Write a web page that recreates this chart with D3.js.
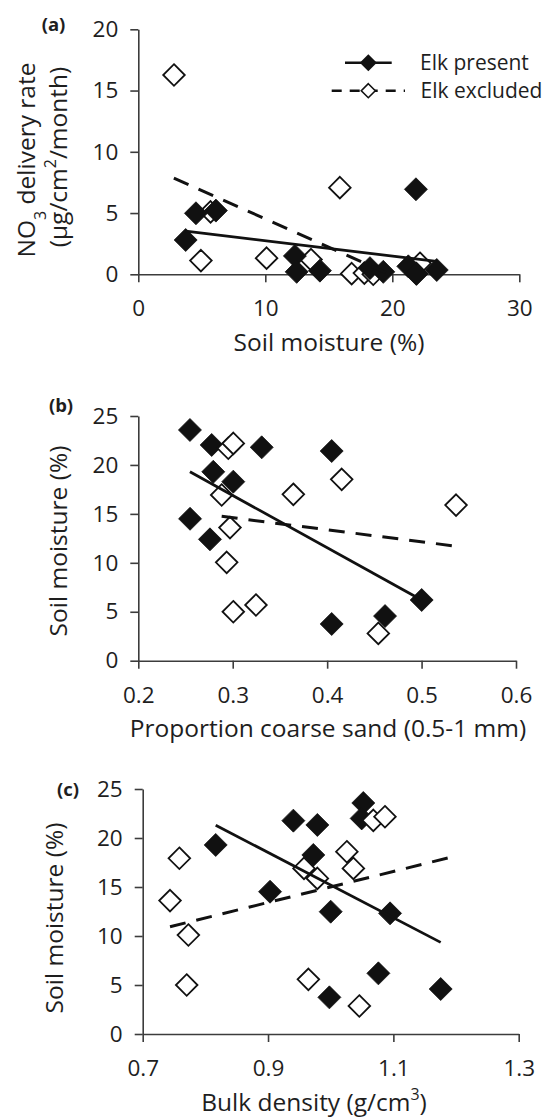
<!DOCTYPE html>
<html>
<head>
<meta charset="utf-8">
<script src="https://cdn.jsdelivr.net/npm/d3@7"></script>
<style>
  html, body { margin: 0; padding: 0; background: #ffffff; }
  svg { display: block; }
</style>
</head>
<body>
<script>
// ---------------- DATA ----------------
// Panel (a): NO3 delivery rate vs soil moisture
const aPresentX  = [3.73, 4.54, 6.11, 12.33, 12.47, 14.3, 18.24, 19.29, 21.26, 21.86, 21.9, 23.5];
const aPresentY  = [2.8, 4.98, 5.2, 1.5, 0.2, 0.3, 0.5, 0.2, 0.65, 6.94, 0.05, 0.35];
const aExcludedX = [2.81, 4.93, 5.69, 10.1, 13.6, 15.87, 16.8, 17.8, 18.5, 22.18, 21.9];
const aExcludedY = [16.27, 1.12, 5.1, 1.32, 1.2, 7.07, 0.05, 0.1, 0.0, 0.9, 0.05];
const aTrendPresent  = [[3.73, 3.53], [23.48, 1.05]];
const aTrendExcluded = [[2.8, 7.85], [19.8, 0.0]];
const aXTicks = [0, 10, 20, 30];
const aYTicks = [0, 5, 10, 15, 20];

// Panel (b): soil moisture vs proportion coarse sand
const bPresentX  = [0.2547, 0.2777, 0.3307, 0.4048, 0.2794, 0.3006, 0.2548, 0.2759, 0.5001, 0.4613, 0.4048];
const bPresentY  = [23.57, 22.04, 21.8, 21.42, 19.3, 18.29, 14.5, 12.4, 6.2, 4.56, 3.75];
const bExcludedX = [0.2953, 0.3006, 0.4154, 0.3642, 0.2883, 0.2971, 0.2936, 0.3006, 0.3246, 0.4542, 0.5365];
const bExcludedY = [21.7, 22.2, 18.53, 17.0, 16.93, 13.6, 10.05, 5.0, 5.69, 2.79, 15.9];
const bTrendPresent  = [[0.2547, 19.3], [0.5, 6.2]];
const bTrendExcluded = [[0.2883, 14.75], [0.5365, 11.7]];
const bXTicks = [0.2, 0.3, 0.4, 0.5, 0.6];
const bYTicks = [0, 5, 10, 15, 20, 25];

// Panel (c): soil moisture vs bulk density
const cPresentX  = [0.8165, 0.9404, 0.9787, 0.9723, 0.9032, 1.0, 1.0947, 1.052, 1.0494, 1.0761, 0.9979, 1.1755];
const cPresentY  = [19.29, 21.77, 21.33, 18.27, 14.52, 12.48, 12.31, 23.57, 22.0, 6.19, 3.74, 4.59];
const cExcludedX = [0.7585, 0.7436, 0.7729, 0.7702, 0.9644, 1.0457, 0.9574, 0.9787, 1.0258, 1.0362, 1.068, 1.0866];
const cExcludedY = [17.93, 13.61, 10.10, 5.0, 5.58, 2.86, 16.9, 15.88, 18.6, 16.9, 21.8, 22.17];
const cTrendPresent  = [[0.8165, 21.3], [1.1755, 9.35]];
const cTrendExcluded = [[0.7436, 10.95], [1.1894, 18.0]];
const cXTicks = [0.7, 0.9, 1.1, 1.3];
const cYTicks = [0, 5, 10, 15, 20, 25];

const legendLabels = ["Elk present", "Elk excluded"];

// ---------------- DRAWING ----------------
const W = 548, H = 1119;
const FONT = "'Open Sans', 'Liberation Sans', sans-serif";
const FS = 22.5;      // tick labels
const TFS = 24.5;     // axis titles
const LFS = 21;       // legend
const INK = "#1e1e1e";
const AXIS = "#3c3c3c";

const svg = d3.select("body").append("svg")
  .attr("width", W).attr("height", H)
  .attr("font-family", FONT);

function diamond(r) {
  return `M0,${-r}L${r},0L0,${r}L${-r},0Z`;
}
function zip(xs, ys) { return xs.map((x, i) => [x, ys[i]]); }

function panel(cfg) {
  const x = d3.scaleLinear().domain(cfg.xDomain).range(cfg.xRange);
  const y = d3.scaleLinear().domain(cfg.yDomain).range(cfg.yRange);
  const g = svg.append("g");

  const xAxis = d3.axisBottom(x).tickValues(cfg.xTicks).tickFormat(cfg.xFormat)
    .tickSize(8).tickSizeOuter(0).tickPadding(18);
  const yAxis = d3.axisLeft(y).tickValues(cfg.yTicks).tickFormat(d3.format("d"))
    .tickSize(8).tickSizeOuter(0).tickPadding(12);

  const gx = g.append("g").attr("transform", `translate(0,${cfg.yRange[0]})`).call(xAxis);
  const gy = g.append("g").attr("transform", `translate(${cfg.xRange[0]},0)`).call(yAxis);
  [gx, gy].forEach(a => {
    a.attr("font-family", FONT).attr("font-size", FS);
    a.select(".domain").attr("stroke", AXIS).attr("stroke-width", 1.6);
    a.selectAll(".tick line").attr("stroke", AXIS).attr("stroke-width", 1.6);
    a.selectAll(".tick text").attr("fill", INK);
  });

  const present = zip(cfg.presentX, cfg.presentY);
  const excluded = zip(cfg.excludedX, cfg.excludedY);

  function drawPresent() {
    g.append("g").selectAll("path").data(present).join("path")
      .attr("d", diamond(11.5))
      .attr("transform", d => `translate(${x(d[0])},${y(d[1])})`)
      .attr("fill", "#111").attr("stroke", "#111").attr("stroke-width", 0.8);
  }
  function drawExcluded() {
    g.append("g").selectAll("path").data(excluded).join("path")
      .attr("d", diamond(10.8))
      .attr("transform", d => `translate(${x(d[0])},${y(d[1])})`)
      .attr("fill", "#fff").attr("stroke", "#111").attr("stroke-width", 1.8);
  }
  if (cfg.presentOnTop) { drawExcluded(); drawPresent(); }
  else { drawPresent(); drawExcluded(); }

  const line = d3.line().x(d => x(d[0])).y(d => y(d[1]));
  g.append("path").datum(cfg.trendPresent).attr("d", line)
    .attr("fill", "none").attr("stroke", "#111").attr("stroke-width", 2.8);
  g.append("path").datum(cfg.trendExcluded).attr("d", line)
    .attr("fill", "none").attr("stroke", "#111").attr("stroke-width", 3)
    .attr("stroke-dasharray", "16,11");

  g.append("text").attr("x", cfg.labelPos[0]).attr("y", cfg.labelPos[1])
    .attr("text-anchor", "middle").attr("font-weight", "bold")
    .attr("font-size", 18.5).attr("fill", INK).text(cfg.label);

  return { x, y, g };
}

panel({
  xDomain: [0, 30], xRange: [138.3, 519.3],
  yDomain: [0, 20], yRange: [274.3, 29.3],
  xTicks: aXTicks, yTicks: aYTicks, xFormat: d3.format("d"),
  presentX: aPresentX, presentY: aPresentY, excludedX: aExcludedX, excludedY: aExcludedY,
  trendPresent: aTrendPresent, trendExcluded: aTrendExcluded,
  presentOnTop: true, label: "(a)", labelPos: [53.5, 30.5]
});
panel({
  xDomain: [0.2, 0.6], xRange: [138.3, 516],
  yDomain: [0, 25], yRange: [660.7, 416],
  xTicks: bXTicks, yTicks: bYTicks, xFormat: d3.format(".1f"),
  presentX: bPresentX, presentY: bPresentY, excludedX: bExcludedX, excludedY: bExcludedY,
  trendPresent: bTrendPresent, trendExcluded: bTrendExcluded,
  presentOnTop: false, label: "(b)", labelPos: [61, 412]
});
panel({
  xDomain: [0.7, 1.3], xRange: [142.7, 518.7],
  yDomain: [0, 25], yRange: [1034, 789],
  xTicks: cXTicks, yTicks: cYTicks, xFormat: d3.format(".1f"),
  presentX: cPresentX, presentY: cPresentY, excludedX: cExcludedX, excludedY: cExcludedY,
  trendPresent: cTrendPresent, trendExcluded: cTrendExcluded,
  presentOnTop: false, label: "(c)", labelPos: [68, 796]
});

// ---- axis titles ----
function addParts(t, parts, fs) {
  parts.forEach(p => {
    const s = t.append("tspan").text(p.t);
    if (p.sup) s.attr("baseline-shift", "super").attr("font-size", fs * 0.65);
    if (p.sub) s.attr("baseline-shift", "sub").attr("font-size", fs * 0.65);
  });
}
function xTitle(cx, by, parts) {
  const t = svg.append("text").attr("x", cx).attr("y", by)
    .attr("text-anchor", "middle").attr("font-size", TFS).attr("fill", INK);
  addParts(t, parts, TFS);
}
function yTitle(bx, cy, parts) {
  const t = svg.append("text").attr("transform", `translate(${bx},${cy}) rotate(-90)`)
    .attr("text-anchor", "middle").attr("font-size", TFS).attr("fill", INK);
  addParts(t, parts, TFS);
}
xTitle(329, 351, [{t: "Soil moisture (%)"}]);
xTitle(328, 737, [{t: "Proportion coarse sand (0.5-1 mm)"}]);
xTitle(314, 1111, [{t: "Bulk density (g/cm"}, {t: "3", sup: true}, {t: ")"}]);

yTitle(34.5, 160, [{t: "NO"}, {t: "3", sub: true}, {t: " delivery rate"}]);
yTitle(66.5, 157, [{t: "(\u00b5g/cm"}, {t: "2", sup: true}, {t: "/month)"}]);
yTitle(67, 541, [{t: "Soil moisture (%)"}]);
yTitle(63, 918, [{t: "Soil moisture (%)"}]);

// ---- legend (panel a) ----
const lg = svg.append("g");
lg.append("line").attr("x1", 345).attr("x2", 391.7).attr("y1", 62.7).attr("y2", 62.7)
  .attr("stroke", "#111").attr("stroke-width", 2.6);
lg.append("path").attr("d", diamond(8.5)).attr("transform", "translate(368.3,62.7)")
  .attr("fill", "#111");
lg.append("text").attr("x", 420).attr("y", 62.7).attr("dy", "0.36em")
  .attr("font-size", LFS).attr("fill", INK).text(legendLabels[0]);

lg.append("line").attr("x1", 331.7).attr("x2", 405).attr("y1", 90.7).attr("y2", 90.7)
  .attr("stroke", "#111").attr("stroke-width", 2.6).attr("stroke-dasharray", "10,8");
lg.append("path").attr("d", diamond(7)).attr("transform", "translate(368.3,90.7)")
  .attr("fill", "#fff").attr("stroke", "#111").attr("stroke-width", 1.6);
lg.append("text").attr("x", 420.5).attr("y", 90.7).attr("dy", "0.36em")
  .attr("font-size", LFS).attr("fill", INK).text(legendLabels[1]);
</script>
</body>
</html>
